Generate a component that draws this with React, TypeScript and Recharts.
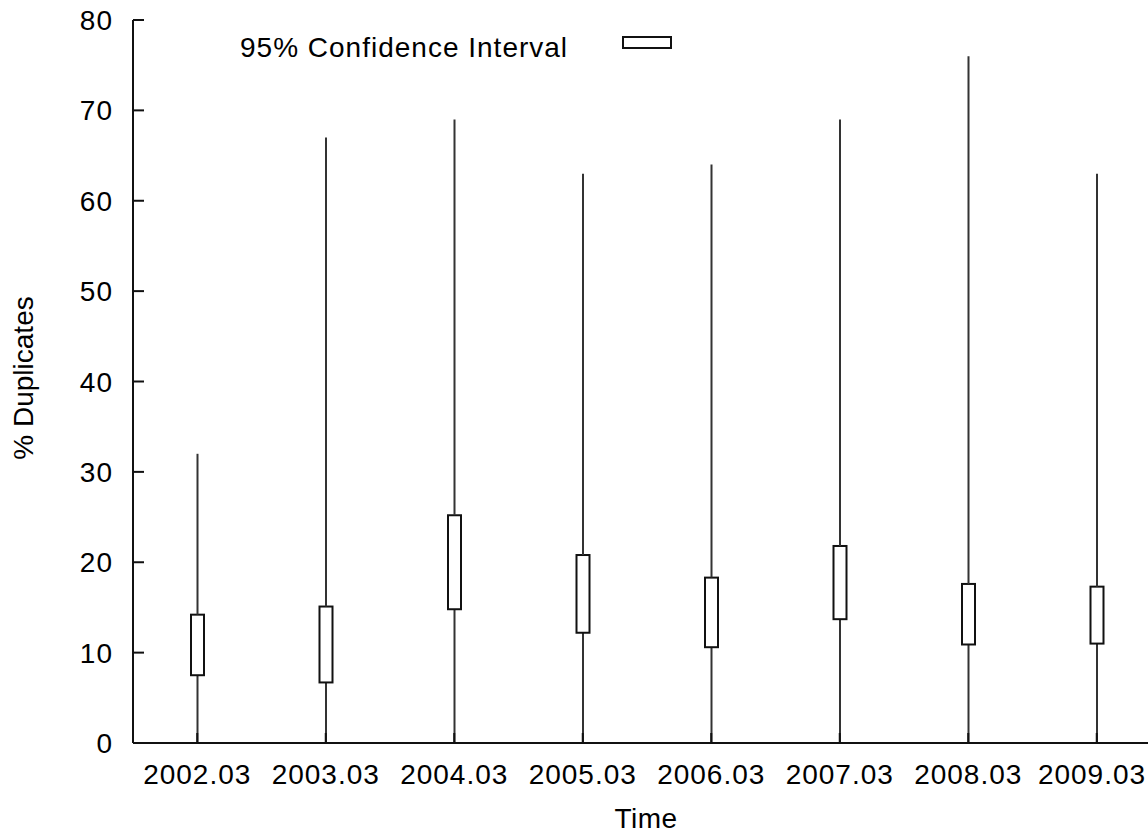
import { ComposedChart, Bar, XAxis, YAxis, Legend } from 'recharts';

const periods = ['2002.03', '2003.03', '2004.03', '2005.03', '2006.03', '2007.03', '2008.03', '2009.03'];
const whiskerMin = [0, 0, 0, 0, 0, 0, 0, 0];
const ciLow = [7.5, 6.7, 14.8, 12.2, 10.6, 13.7, 10.9, 11.0];
const ciHigh = [14.2, 15.1, 25.2, 20.8, 18.3, 21.8, 17.6, 17.3];
const whiskerMax = [32, 67, 69, 63, 64, 69, 76, 63];
const yTicks = [0, 10, 20, 30, 40, 50, 60, 70, 80];

const FONT = '"Liberation Sans", Arial, Helvetica, sans-serif';
const VIEW_WIDTH = 1148;

// stacked: base (invisible) + lower whisker + box + upper whisker
const chartData = periods.map((p, i) => ({
    period: p,
    base: whiskerMin[i],
    lower: ciLow[i] - whiskerMin[i],
    box: ciHigh[i] - ciLow[i],
    upper: whiskerMax[i] - ciHigh[i],
}));

const WhiskerShape = (props: any) => {
    const { x, y, width, height } = props;
    const cx = x + width / 2;
    return <line x1={cx} x2={cx} y1={y} y2={y + height} stroke="#333" strokeWidth={2} />;
};

const BoxShape = (props: any) => {
    const { x, y, width, height } = props;
    return <rect x={x} y={y} width={width} height={height} fill="#fff" stroke="#111" strokeWidth={2} />;
};

const XTick = (props: any) => {
    const { x, y, payload } = props;
    // keep the last label inside the visible frame
    const halfWidth = 54;
    const tx = Math.min(x, VIEW_WIDTH - 2 - halfWidth);
    return (
        <g>
            <line x1={x} x2={x} y1={y} y2={y - 10} stroke="#111" strokeWidth={2} />
            <text x={tx} y={y + 41} textAnchor="middle" fontSize={28} letterSpacing={1} fontFamily={FONT} fill="#000">
                {payload.value}
            </text>
        </g>
    );
};

const YTick = (props: any) => {
    const { x, y, payload } = props;
    return (
        <g>
            <line x1={x + 20} x2={x + 31} y1={y} y2={y} stroke="#111" strokeWidth={2} />
            <text x={x} y={y + 10} textAnchor="end" fontSize={28} letterSpacing={1} fontFamily={FONT} fill="#000">
                {payload.value}
            </text>
        </g>
    );
};

const LegendContent = () => (
    <div style={{ position: 'relative', width: 460, height: 40, fontFamily: FONT }}>
        <span
            style={{
                position: 'absolute',
                left: 0,
                top: 0,
                fontSize: 28,
                lineHeight: '28px',
                letterSpacing: 1,
                color: '#000',
                whiteSpace: 'nowrap',
            }}
        >
            95% Confidence Interval
        </span>
        <svg style={{ position: 'absolute', left: 382, top: 2 }} width={52} height={16}>
            <rect x={1} y={1} width={48} height={11} fill="#fff" stroke="#111" strokeWidth={2} />
        </svg>
    </div>
);

export default function App() {
    return (
        <div style={{ position: 'absolute', left: 0, top: 0, width: VIEW_WIDTH, height: 833, overflow: 'hidden', background: '#fff' }}>
            <ComposedChart
                width={1161}
                height={833}
                data={chartData}
                margin={{ top: 20, right: 0, bottom: 0, left: 0 }}
                barSize={13}
            >
                <XAxis
                    dataKey="period"
                    height={90}
                    tickLine={false}
                    tickSize={0}
                    tickMargin={0}
                    axisLine={{ stroke: '#111', strokeWidth: 2 }}
                    tick={<XTick />}
                    interval={0}
                    label={{
                        content: () => (
                            <text x={646} y={828} textAnchor="middle" fontSize={28} letterSpacing={0.5} fontFamily={FONT} fill="#000">
                                Time
                            </text>
                        ),
                    }}
                />
                <YAxis
                    width={133}
                    domain={[0, 80]}
                    ticks={yTicks}
                    tickLine={false}
                    tickSize={0}
                    tickMargin={20}
                    axisLine={{ stroke: '#111', strokeWidth: 2 }}
                    tick={<YTick />}
                    label={{
                        content: () => (
                            <text
                                x={33}
                                y={378}
                                transform="rotate(-90, 33, 378)"
                                textAnchor="middle"
                                fontSize={28}
                                fontFamily={FONT}
                                fill="#000"
                            >
                                % Duplicates
                            </text>
                        ),
                    }}
                />
                <Legend
                    layout="horizontal"
                    align="center"
                    verticalAlign="middle"
                    content={<LegendContent />}
                    wrapperStyle={{ top: 34, left: 240, width: 460, height: 40 }}
                />
                <Bar dataKey="base" stackId="ci" fill="none" isAnimationActive={false} legendType="none" />
                <Bar dataKey="lower" stackId="ci" shape={<WhiskerShape />} isAnimationActive={false} legendType="none" />
                <Bar dataKey="box" stackId="ci" shape={<BoxShape />} isAnimationActive={false} />
                <Bar dataKey="upper" stackId="ci" shape={<WhiskerShape />} isAnimationActive={false} legendType="none" />
            </ComposedChart>
        </div>
    );
}
